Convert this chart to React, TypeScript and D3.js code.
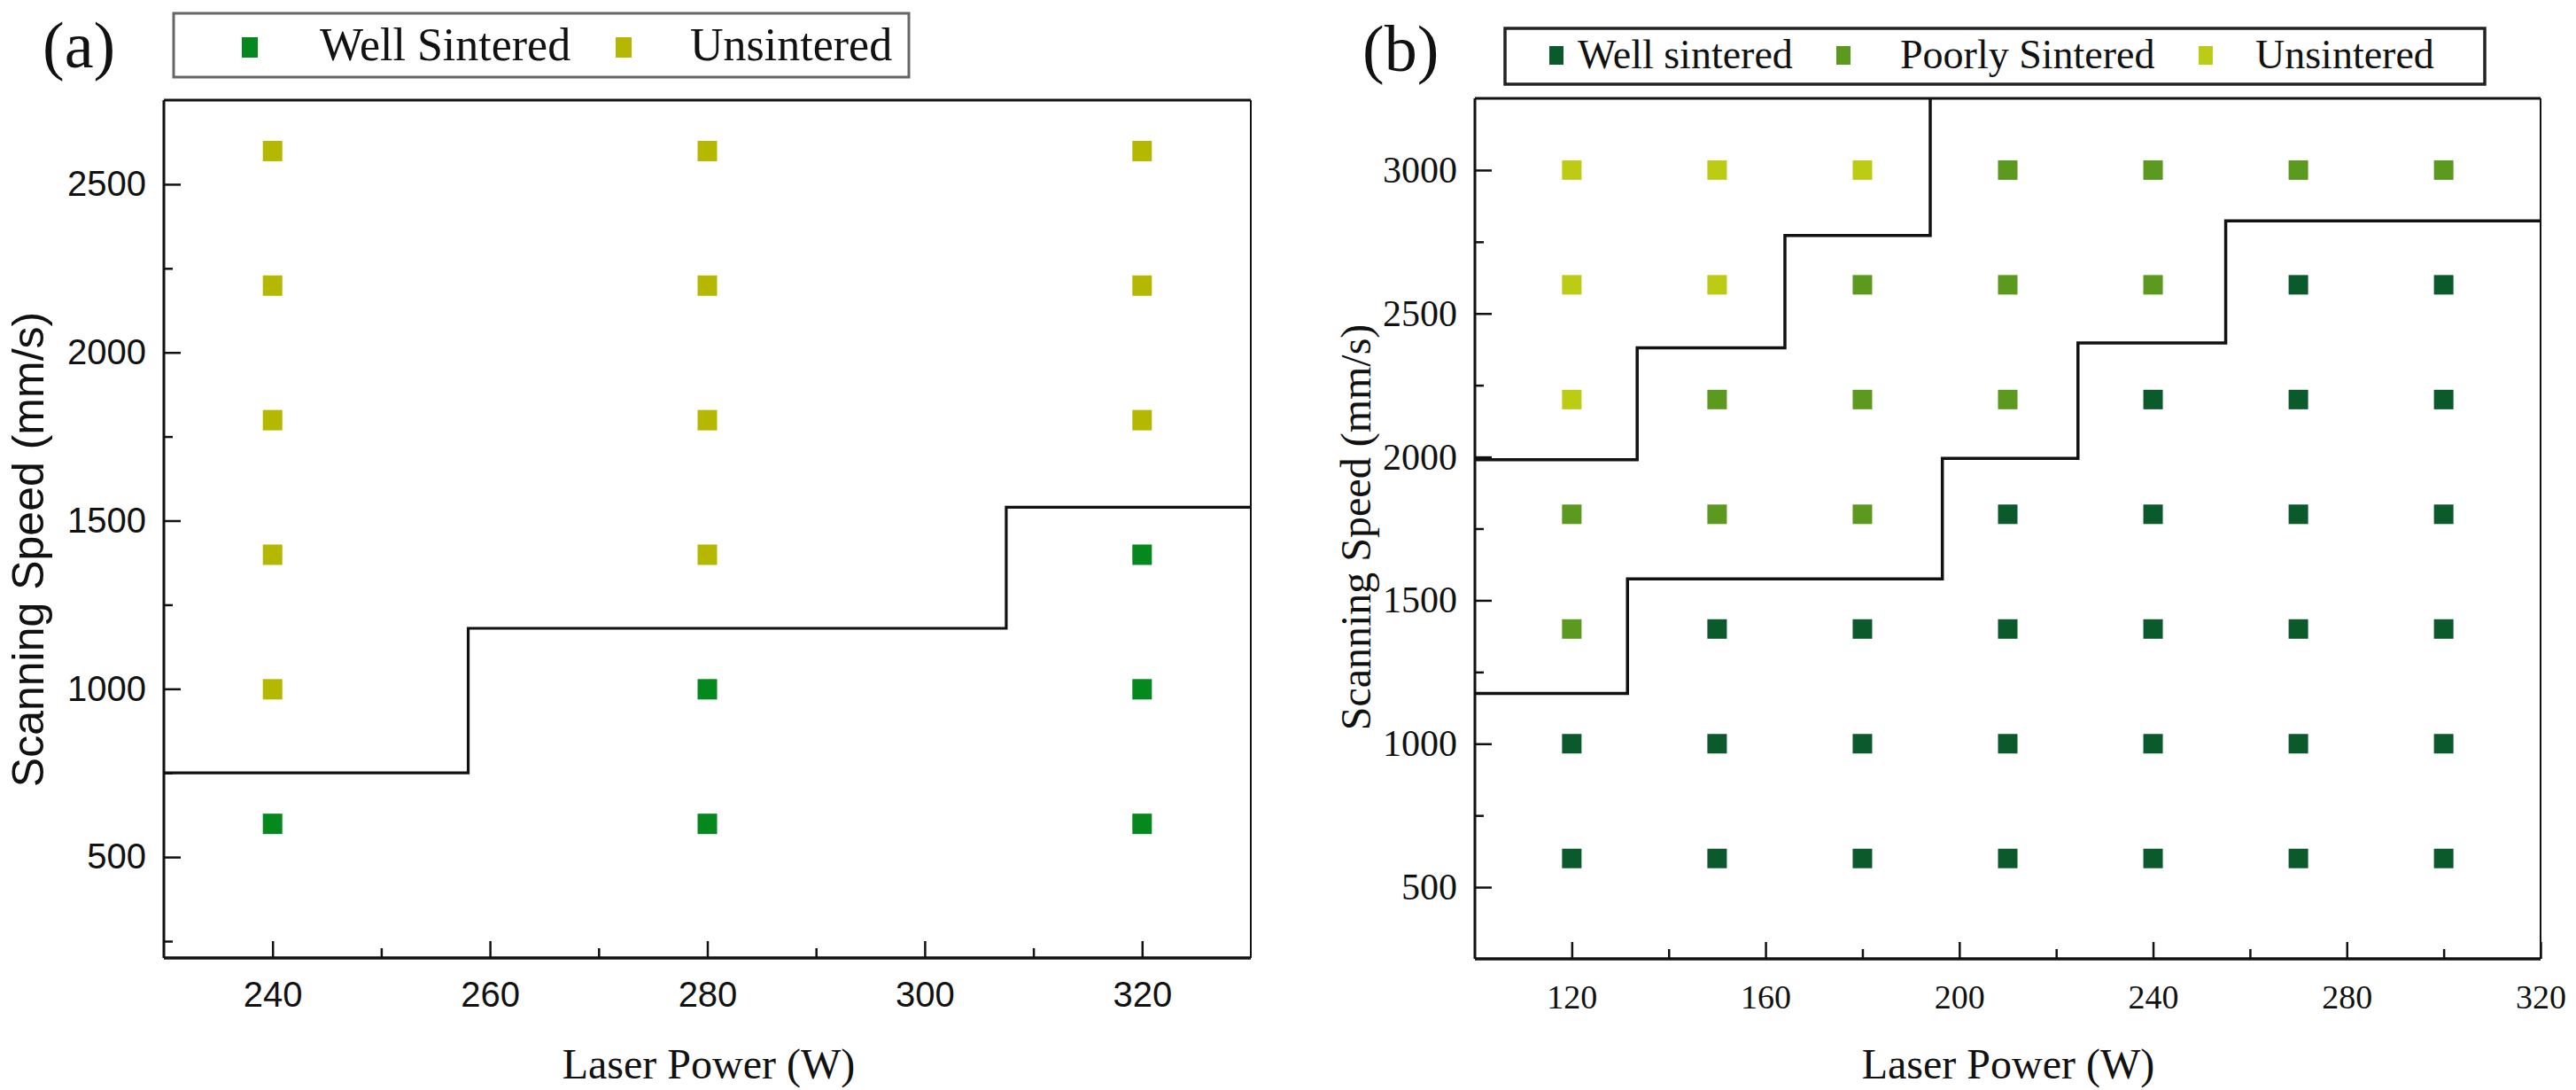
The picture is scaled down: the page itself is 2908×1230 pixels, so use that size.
import React, { useEffect, useRef } from 'react';
import * as d3 from 'd3';

type Pt = [number, number];

const SANS = '"Liberation Sans", Arial, sans-serif';
const SERIF = '"Liberation Serif", "Times New Roman", serif';

// ---- Panel (a) data ----
const xTicksA = [240, 260, 280, 300, 320];
const xMinorA = [250, 270, 290, 310];
const yTicksA = [500, 1000, 1500, 2000, 2500];
const yMinorA = [250, 750, 1250, 1750, 2250];
const wellSinteredA: Pt[] = [
  [240, 600], [280, 600], [280, 1000], [320, 600], [320, 1000], [320, 1400],
];
const unsinteredA: Pt[] = [
  [240, 1000], [240, 1400], [240, 1800], [240, 2200], [240, 2600],
  [280, 1400], [280, 1800], [280, 2200], [280, 2600],
  [320, 1800], [320, 2200], [320, 2600],
];
// boundary between sintered / unsintered
const boundaryA: Pt[] = [
  [230, 750], [258, 750], [258, 1180], [307.5, 1180], [307.5, 1540], [330, 1540],
];

// ---- Panel (b) data ----
const xTicksB = [120, 160, 200, 240, 280, 320];
const xMinorB = [140, 180, 220, 260, 300];
const yTicksB = [500, 1000, 1500, 2000, 2500, 3000];
const yMinorB = [750, 1250, 1750, 2250, 2750];
const powersB = [120, 150, 180, 210, 240, 270, 300];
const speedsB = [3000, 2600, 2200, 1800, 1400, 1000, 600];
// W = well sintered, P = poorly sintered, U = unsintered (one row per speed)
const statusB = ['UUUPPPP', 'UUPPPWW', 'UPPPWWW', 'PPPWWWW', 'PWWWWWW', 'WWWWWWW', 'WWWWWWW'];
const upperBoundaryB: Pt[] = [
  [100, 1990], [133.5, 1990], [133.5, 2380], [164, 2380], [164, 2772], [194, 2772], [194, 3250],
];
const lowerBoundaryB: Pt[] = [
  [100, 1175], [131.5, 1175], [131.5, 1575], [196.5, 1575], [196.5, 1995], [224.5, 1995],
  [224.5, 2397], [255, 2397], [255, 2823], [320, 2823],
];

const colorsA = { well: '#05891f', uns: '#b5b800' };
const colorsB: Record<string, string> = { W: '#0b5a2b', P: '#5b9a1e', U: '#bccc14' };

type Frame = { left: number; right: number; top: number; bottom: number };

type PanelCfg = {
  frame: Frame;
  xDomain: [number, number];
  yDomain: [number, number];
  xTicks: number[];
  xMinor: number[];
  yTicks: number[];
  yMinor: number[];
  tickFont: string;
  xTickSize: number;
  yTickSize: number;
  xPad: number;
  yPad: number;
};

// Draws the frame and axes, returns the scales
function drawAxes(svg: d3.Selection<SVGSVGElement, unknown, null, undefined>, c: PanelCfg) {
  const { frame } = c;
  const x = d3.scaleLinear().domain(c.xDomain).range([frame.left, frame.right]);
  const y = d3.scaleLinear().domain(c.yDomain).range([frame.bottom, frame.top]);

  const style = (g: d3.Selection<SVGGElement, unknown, null, undefined>, size: number) => {
    g.select('.domain').remove();
    g.attr('font-family', c.tickFont).attr('font-size', size).attr('color', '#111');
    g.selectAll('text').attr('font-family', c.tickFont);
    g.selectAll('line').attr('stroke-width', 2.5);
  };

  // y axis, ticks pointing inward
  svg.append('g')
    .attr('transform', `translate(${frame.left},0)`)
    .call(d3.axisLeft(y).tickValues(c.yTicks).tickSize(-19).tickPadding(c.yPad).tickFormat(d3.format('d')))
    .call((g) => style(g, c.yTickSize));
  svg.append('g')
    .attr('transform', `translate(${frame.left},0)`)
    .call(d3.axisLeft(y).tickValues(c.yMinor).tickSize(-10).tickFormat(() => ''))
    .call((g) => style(g, c.yTickSize));

  // x axis
  svg.append('g')
    .attr('transform', `translate(0,${frame.bottom})`)
    .call(d3.axisBottom(x).tickValues(c.xTicks).tickSize(-19).tickPadding(c.xPad).tickFormat(d3.format('d')))
    .call((g) => style(g, c.xTickSize));
  svg.append('g')
    .attr('transform', `translate(0,${frame.bottom})`)
    .call(d3.axisBottom(x).tickValues(c.xMinor).tickSize(-11).tickFormat(() => ''))
    .call((g) => style(g, c.xTickSize));

  // frame: heavy left/bottom/top, lighter right
  const border = svg.append('g').attr('stroke', '#111').attr('fill', 'none');
  border.append('line').attr('x1', frame.left).attr('x2', frame.right)
    .attr('y1', frame.top).attr('y2', frame.top).attr('stroke-width', 3);
  border.append('line').attr('x1', frame.left).attr('x2', frame.right)
    .attr('y1', frame.bottom).attr('y2', frame.bottom).attr('stroke-width', 3.5);
  border.append('line').attr('x1', frame.left).attr('x2', frame.left)
    .attr('y1', frame.top).attr('y2', frame.bottom).attr('stroke-width', 3);
  border.append('line').attr('x1', frame.right).attr('x2', frame.right)
    .attr('y1', frame.top).attr('y2', frame.bottom).attr('stroke-width', 2);

  return { x, y };
}

const App: React.FC = () => {
  const svgRef = useRef<SVGSVGElement>(null);

  useEffect(() => {
    const svg = d3.select(svgRef.current as SVGSVGElement);
    svg.selectAll('*').remove();

    svg.append('rect').attr('width', 2908).attr('height', 1230).attr('fill', '#fff');

    // ---------------- Panel (a) ----------------
    const a = drawAxes(svg, {
      frame: { left: 185, right: 1412, top: 113, bottom: 1081 },
      xDomain: [230, 330],
      yDomain: [200, 2750],
      xTicks: xTicksA,
      xMinor: xMinorA,
      yTicks: yTicksA,
      yMinor: yMinorA,
      tickFont: SANS,
      xTickSize: 40,
      yTickSize: 40,
      xPad: 27,
      yPad: 20,
    });

    const line = d3.line<Pt>();

    svg.append('path')
      .datum(boundaryA)
      .attr('d', line.x((d) => a.x(d[0])).y((d) => a.y(d[1])))
      .attr('fill', 'none')
      .attr('stroke', '#111')
      .attr('stroke-width', 3.2);

    const mA = 22;
    svg.append('g').selectAll('rect')
      .data(wellSinteredA)
      .join('rect')
      .attr('x', (d) => a.x(d[0]) - mA / 2)
      .attr('y', (d) => a.y(d[1]) - mA / 2)
      .attr('width', mA)
      .attr('height', mA + 1)
      .attr('fill', colorsA.well);
    svg.append('g').selectAll('rect')
      .data(unsinteredA)
      .join('rect')
      .attr('x', (d) => a.x(d[0]) - mA / 2)
      .attr('y', (d) => a.y(d[1]) - mA / 2)
      .attr('width', mA)
      .attr('height', mA + 1)
      .attr('fill', colorsA.uns);

    // titles
    svg.append('text')
      .attr('transform', 'translate(32,620) rotate(-90)')
      .attr('text-anchor', 'middle')
      .attr('dominant-baseline', 'central')
      .attr('font-family', SANS)
      .attr('font-size', 50)
      .attr('fill', '#111')
      .text('Scanning Speed (mm/s)');
    svg.append('text')
      .attr('x', 800)
      .attr('y', 1200)
      .attr('text-anchor', 'middle')
      .attr('dominant-baseline', 'central')
      .attr('font-family', SERIF)
      .attr('font-size', 48)
      .attr('fill', '#111')
      .text('Laser Power (W)');
    svg.append('text')
      .attr('x', 48)
      .attr('y', 76)
      .attr('font-family', SERIF)
      .attr('font-size', 74)
      .attr('fill', '#111')
      .text('(a)');

    // legend (a)
    const legA = svg.append('g');
    legA.append('rect')
      .attr('x', 196).attr('y', 15).attr('width', 830).attr('height', 72)
      .attr('fill', '#fff').attr('stroke', '#666').attr('stroke-width', 3);
    legA.append('rect').attr('x', 273).attr('y', 42).attr('width', 18).attr('height', 23)
      .attr('fill', colorsA.well);
    legA.append('text').attr('x', 361).attr('y', 68)
      .attr('font-family', SERIF).attr('font-size', 52).attr('fill', '#111')
      .text('Well Sintered');
    legA.append('rect').attr('x', 695).attr('y', 42).attr('width', 18).attr('height', 23)
      .attr('fill', colorsA.uns);
    legA.append('text').attr('x', 779).attr('y', 68)
      .attr('font-family', SERIF).attr('font-size', 52).attr('fill', '#111')
      .text('Unsintered');

    // ---------------- Panel (b) ----------------
    const b = drawAxes(svg, {
      frame: { left: 1665, right: 2868, top: 111, bottom: 1082 },
      xDomain: [100, 320],
      yDomain: [250, 3250],
      xTicks: xTicksB,
      xMinor: xMinorB,
      yTicks: yTicksB,
      yMinor: yMinorB,
      tickFont: SERIF,
      xTickSize: 38,
      yTickSize: 42,
      xPad: 29,
      yPad: 20,
    });

    [upperBoundaryB, lowerBoundaryB].forEach((pts) => {
      svg.append('path')
        .datum(pts)
        .attr('d', d3.line<Pt>().x((d) => b.x(d[0])).y((d) => b.y(d[1])))
        .attr('fill', 'none')
        .attr('stroke', '#111')
        .attr('stroke-width', 3.5);
    });

    const cells = speedsB.flatMap((s, i) => powersB.map((p, j) => ({ p, s, k: statusB[i][j] })));
    const mB = 22;
    svg.append('g').selectAll('rect')
      .data(cells)
      .join('rect')
      .attr('x', (d) => b.x(d.p) - mB / 2)
      .attr('y', (d) => b.y(d.s) - mB / 2)
      .attr('width', mB)
      .attr('height', mB)
      .attr('fill', (d) => colorsB[d.k]);

    svg.append('text')
      .attr('transform', 'translate(1530,595) rotate(-90)')
      .attr('text-anchor', 'middle')
      .attr('dominant-baseline', 'central')
      .attr('font-family', SERIF)
      .attr('font-size', 48)
      .attr('fill', '#111')
      .text('Scanning Speed (mm/s)');
    svg.append('text')
      .attr('x', 2267)
      .attr('y', 1200)
      .attr('text-anchor', 'middle')
      .attr('dominant-baseline', 'central')
      .attr('font-family', SERIF)
      .attr('font-size', 48)
      .attr('fill', '#111')
      .text('Laser Power (W)');
    svg.append('text')
      .attr('x', 1538)
      .attr('y', 80)
      .attr('font-family', SERIF)
      .attr('font-size', 74)
      .attr('fill', '#111')
      .text('(b)');

    // legend (b)
    const legB = svg.append('g');
    legB.append('rect')
      .attr('x', 1699).attr('y', 32).attr('width', 1106).attr('height', 63)
      .attr('fill', '#fff').attr('stroke', '#222').attr('stroke-width', 3.5);
    const itemsB = [
      { k: 'W', label: 'Well sintered', mx: 1749, tx: 1781 },
      { k: 'P', label: 'Poorly Sintered', mx: 2073, tx: 2145 },
      { k: 'U', label: 'Unsintered', mx: 2482, tx: 2546 },
    ];
    itemsB.forEach((it) => {
      legB.append('rect').attr('x', it.mx).attr('y', 52).attr('width', 16).attr('height', 21)
        .attr('fill', colorsB[it.k]);
      legB.append('text').attr('x', it.tx).attr('y', 77)
        .attr('font-family', SERIF).attr('font-size', 46).attr('fill', '#111')
        .text(it.label);
    });
  }, []);

  return (
    <svg
      ref={svgRef}
      width={2908}
      height={1230}
      style={{ position: 'absolute', left: 0, top: 0 }}
    />
  );
};

export default App;
